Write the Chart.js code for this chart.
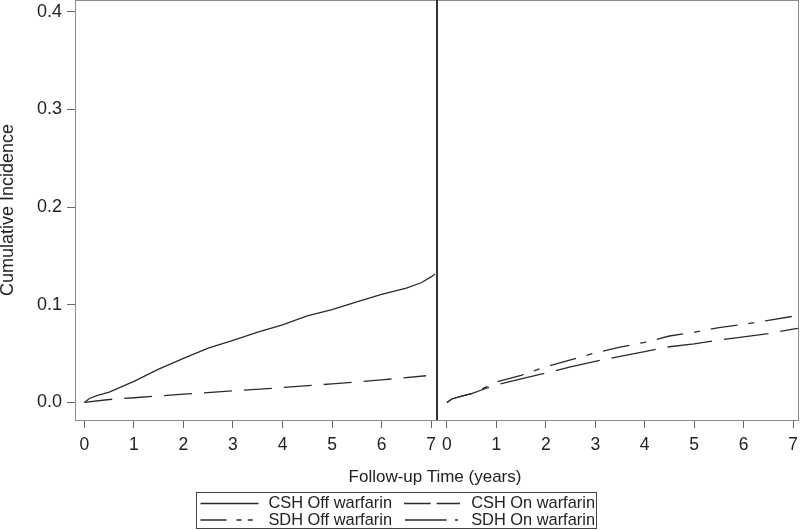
<!DOCTYPE html>
<html>
<head>
<meta charset="utf-8">
<script src="https://cdn.jsdelivr.net/npm/chart.js@4.4.1/dist/chart.umd.min.js"></script>
<style>
body { margin: 0; background: #fff; }
#wrap { position: relative; width: 800px; height: 530px; overflow: hidden; font-family: "Liberation Sans", Arial, sans-serif; color: #222; }
canvas { position: absolute; top: 0; }
#left { left: 0; }
#right { left: 437px; }
.xtitle { position: absolute; left: 285px; width: 300px; top: 468px; text-align: center; font-size: 17px; line-height: 17px; }
#legend { position: absolute; left: 196px; top: 492px; width: 399px; height: 35px; border: 1px solid #444; }
.lab { position: absolute; width: 150px; font-size: 16.4px; line-height: 16px; white-space: nowrap; text-align: right; }
svg { position: absolute; left: 0; top: 0; }
</style>
</head>
<body>
<div id="wrap">
  <canvas id="left" width="437" height="470"></canvas>
  <canvas id="right" width="362" height="470"></canvas>
  <div class="xtitle">Follow-up Time (years)</div>
  <div id="legend"></div>
  <svg width="800" height="530">
    <g stroke="#2b2b2b" stroke-width="1.3" fill="none">
      <line x1="200.5" y1="503.5" x2="258.5" y2="503.5"/>
      <line x1="404" y1="503.5" x2="460" y2="503.5" stroke-dasharray="26.7 6"/>
      <line x1="200.5" y1="520" x2="253" y2="520" stroke-dasharray="26 10 5 6.3 5"/>
      <line x1="405" y1="520" x2="458" y2="520" stroke-dasharray="41.7 8.3 3"/>
    </g>
  </svg>
  <div class="lab" style="left:242px; top:494px">CSH Off warfarin</div>
  <div class="lab" style="left:445px; top:494px">CSH On warfarin</div>
  <div class="lab" style="left:242px; top:510.5px">SDH Off warfarin</div>
  <div class="lab" style="left:445px; top:510.5px">SDH On warfarin</div>
</div>
<script>
// data
const xTicks = [0, 1, 2, 3, 4, 5, 6, 7];
const yTicks = [0, 0.1, 0.2, 0.3, 0.4];

// left panel: CSH
const cshOffYears = [0, 0.1, 0.25, 0.5, 1, 1.5, 2, 2.5, 3, 3.5, 4, 4.5, 5, 5.5, 6, 6.5, 6.8, 7, 7.08];
const cshOff = [0, 0.004, 0.007, 0.0106, 0.0215, 0.034, 0.045, 0.0556, 0.0635, 0.072, 0.0795, 0.0887, 0.095, 0.103, 0.1106, 0.117, 0.1225, 0.1285, 0.1315];
const cshOnYears = [0, 0.5, 1, 2, 3, 4, 5, 6, 6.9];
const cshOn = [0, 0.003, 0.0048, 0.0085, 0.0118, 0.0152, 0.019, 0.023, 0.0273];

// right panel: SDH
const sdhYears = [0, 0.1, 0.3, 0.5, 0.8, 1, 1.5, 2, 2.5, 3, 3.5, 4, 4.5, 5, 5.5, 6, 6.5, 7, 7.1];
const sdhOff = [0, 0.0035, 0.0065, 0.009, 0.0145, 0.018, 0.024, 0.03, 0.0365, 0.042, 0.0472, 0.052, 0.057, 0.06, 0.0638, 0.067, 0.0705, 0.075, 0.0758];
const sdhOn = [0, 0.0035, 0.0065, 0.009, 0.016, 0.021, 0.0278, 0.0365, 0.0435, 0.0508, 0.0565, 0.0615, 0.068, 0.0718, 0.0765, 0.08, 0.084, 0.0882, 0.0892];

const lineColor = '#2b2b2b';
const frameColor = '#8c8c8c';
const toPoints = (xs, ys) => xs.map((x, i) => ({ x: x, y: ys[i] }));

Chart.defaults.font.family = "'Liberation Sans', Arial, sans-serif";
Chart.defaults.color = '#222';

// top edge + dark divider between the panels
const framePlugin = {
  id: 'frame',
  afterDraw(chart, args, opts) {
    const { ctx, chartArea: a } = chart;
    ctx.save();
    ctx.lineWidth = 1;
    ctx.strokeStyle = frameColor;
    ctx.beginPath();
    ctx.moveTo(a.left, a.top + 0.5);
    ctx.lineTo(a.right, a.top + 0.5);
    if (opts.side === 'right') {
      ctx.moveTo(a.right - 0.5, a.top);
      ctx.lineTo(a.right - 0.5, a.bottom);
    }
    ctx.stroke();
    ctx.strokeStyle = '#333';
    ctx.beginPath();
    const dx = opts.side === 'left' ? a.right - 0.5 : a.left + 0.5;
    ctx.moveTo(dx, a.top);
    ctx.lineTo(dx, a.bottom);
    ctx.stroke();
    ctx.restore();
  }
};

const xScale = (min, max) => ({
  type: 'linear',
  min: min,
  max: max,
  afterBuildTicks: s => { s.ticks = xTicks.map(v => ({ value: v })); },
  afterFit: s => { s.height = 50; s.paddingLeft = 0; s.paddingRight = 0; },
  grid: { display: true, drawOnChartArea: false, drawTicks: true, tickLength: 8, tickColor: '#666' },
  border: { display: true, color: frameColor },
  ticks: { font: { size: 17.5 }, padding: 7, maxRotation: 0, autoSkip: false }
});

const yScale = (show) => ({
  display: show,
  min: -0.018,
  max: 0.412,
  afterBuildTicks: s => { s.ticks = yTicks.map(v => ({ value: v })); },
  afterFit: s => { if (show) s.width = 75; s.paddingTop = 0; s.paddingBottom = 0; },
  grid: { display: true, drawOnChartArea: false, drawTicks: true, tickLength: 8, tickColor: '#666' },
  border: { display: true, color: frameColor },
  ticks: { font: { size: 18 }, padding: 5, callback: v => v.toFixed(1) },
  title: { display: true, text: 'Cumulative Incidence', font: { size: 18 }, padding: { top: -3, bottom: 0 } }
});

const lineSet = (label, pts, dash) => ({
  label: label,
  data: pts,
  borderColor: lineColor,
  borderWidth: 1.3,
  borderDash: dash,
  pointRadius: 0,
  tension: 0,
  fill: false
});

const baseOptions = (side, xmin, xmax) => ({
  responsive: false,
  animation: false,
  devicePixelRatio: 1,
  layout: { padding: 0 },
  plugins: { legend: { display: false }, tooltip: { enabled: false }, frame: { side: side } },
  scales: { x: xScale(xmin, xmax), y: yScale(side === 'left') }
});

new Chart(document.getElementById('left'), {
  type: 'line',
  data: {
    datasets: [
      lineSet('CSH Off warfarin', toPoints(cshOffYears, cshOff), []),
      lineSet('CSH On warfarin', toPoints(cshOnYears, cshOn), [28, 12])
    ]
  },
  options: baseOptions('left', -0.19, 7.12),
  plugins: [framePlugin]
});

new Chart(document.getElementById('right'), {
  type: 'line',
  data: {
    datasets: [
      lineSet('SDH Off warfarin', toPoints(sdhYears, sdhOff), [45, 12]),
      lineSet('SDH On warfarin', toPoints(sdhYears, sdhOn), [27, 11, 6, 11])
    ]
  },
  options: baseOptions('right', -0.2, 7.12),
  plugins: [framePlugin]
});
</script>
</body>
</html>
